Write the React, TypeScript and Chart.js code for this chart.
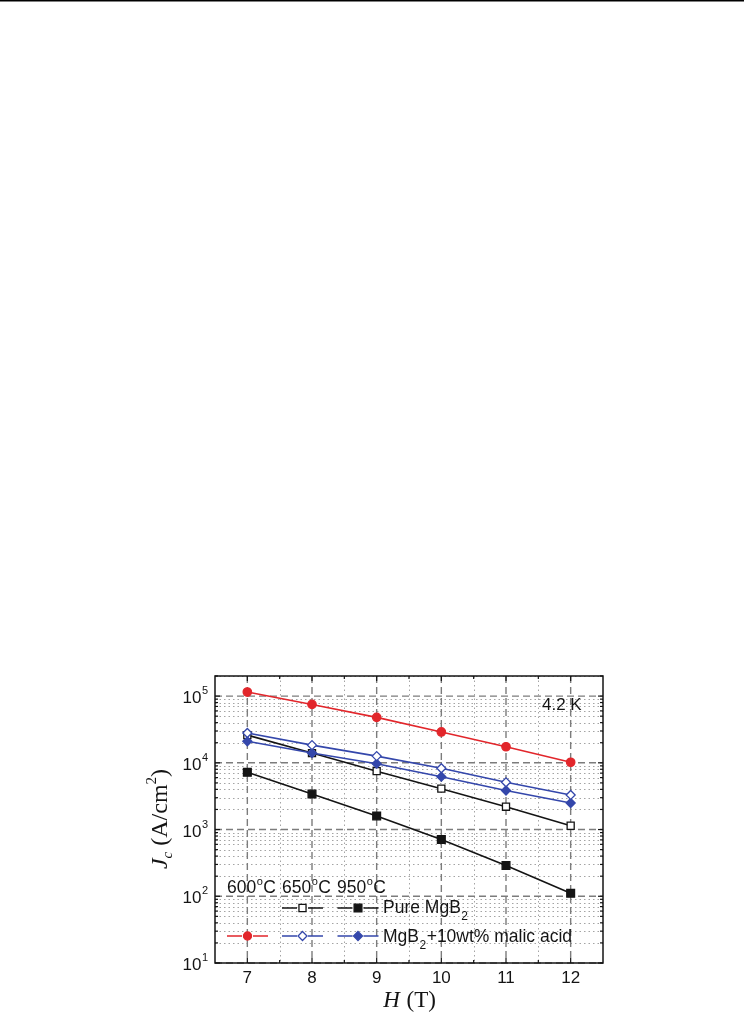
import React, { useEffect, useRef } from 'react';
import { Chart, registerables } from 'chart.js';

Chart.register(...registerables);

// ---- data ----
const fieldsT = [7, 8, 9, 10, 11, 12];
const pure650 = [2.6e4, 1.4e4, 7.5e3, 4.1e3, 2.2e3, 1.14e3];
const pure950 = [7.2e3, 3.4e3, 1.6e3, 710, 290, 111];
const malic600 = [1.15e5, 7.5e4, 4.8e4, 2.9e4, 1.74e4, 1.02e4];
const malic650 = [2.8e4, 1.84e4, 1.26e4, 8.3e3, 5.1e3, 3.3e3];
const malic950 = [2.1e4, 1.4e4, 9.7e3, 6.2e3, 3.85e3, 2.5e3];

const xMajorTicks = [7, 8, 9, 10, 11, 12];
const xMinorTicks = [7.5, 8.5, 9.5, 10.5, 11.5];
const yExponents = [1, 2, 3, 4, 5];
const yMinorMultipliers = [2, 3, 4, 5, 6, 7, 8, 9];
const tempLabels = ['600', '650', '950'];
const legendPure = 'Pure MgB';
const legendMalicA = 'MgB';
const legendMalicB = '+10wt% malic acid';
const tempNote = '4.2 K';

const RED = '#e2262b';
const BLUE = '#3447ab';
const BLACK = '#141414';
const SANS = '"Liberation Sans", Arial, sans-serif';
const SERIF = '"Liberation Serif", "Times New Roman", serif';

const pts = (arr: number[]) => fieldsT.map((x, i) => ({ x, y: arr[i] }));

type Kind = 'circle' | 'rect' | 'diamond';
const drawMarker = (ctx: CanvasRenderingContext2D, kind: Kind, x: number, y: number, r: number, color: string, filled: boolean) => {
  ctx.save();
  ctx.setLineDash([]);
  ctx.lineWidth = 1.3;
  ctx.strokeStyle = color;
  ctx.fillStyle = filled ? color : '#fff';
  ctx.beginPath();
  if (kind === 'circle') ctx.arc(x, y, r, 0, Math.PI * 2);
  else if (kind === 'rect') {
    const s = r * Math.SQRT1_2;
    ctx.rect(x - s, y - s, 2 * s, 2 * s);
  } else {
    ctx.moveTo(x, y - r);
    ctx.lineTo(x + r, y);
    ctx.lineTo(x, y + r);
    ctx.lineTo(x - r, y);
    ctx.closePath();
  }
  ctx.fill();
  ctx.stroke();
  ctx.restore();
};

const decorPlugin = {
  id: 'decor',
  beforeDatasetsDraw(chart: any) {
    const { ctx, chartArea: a, scales } = chart;
    const x = scales.x;
    const y = scales.y;
    ctx.save();
    // minor dotted grid
    ctx.strokeStyle = '#a4a4a4';
    ctx.lineWidth = 1;
    ctx.setLineDash([1.5, 3]);
    yExponents.forEach((e) => {
      yMinorMultipliers.forEach((m) => {
        const v = m * Math.pow(10, e);
        if (v > y.max) return;
        const py = Math.round(y.getPixelForValue(v)) + 0.5;
        ctx.beginPath();
        ctx.moveTo(a.left, py);
        ctx.lineTo(a.right, py);
        ctx.stroke();
      });
    });
    xMinorTicks.forEach((v) => {
      const px = Math.round(x.getPixelForValue(v)) + 0.5;
      ctx.beginPath();
      ctx.moveTo(px, a.top);
      ctx.lineTo(px, a.bottom);
      ctx.stroke();
    });
    // major dashed grid
    ctx.strokeStyle = '#7c7c7c';
    ctx.lineWidth = 1.4;
    ctx.setLineDash([7, 4]);
    yExponents.forEach((e) => {
      const py = y.getPixelForValue(Math.pow(10, e));
      ctx.beginPath();
      ctx.moveTo(a.left, py);
      ctx.lineTo(a.right, py);
      ctx.stroke();
    });
    xMajorTicks.forEach((v) => {
      const px = x.getPixelForValue(v);
      ctx.beginPath();
      ctx.moveTo(px, a.top);
      ctx.lineTo(px, a.bottom);
      ctx.stroke();
    });
    // border + ticks
    ctx.setLineDash([]);
    ctx.strokeStyle = BLACK;
    ctx.lineWidth = 1.5;
    ctx.strokeRect(a.left, a.top, a.right - a.left, a.bottom - a.top);
    ctx.lineWidth = 1.2;
    const tick = (x1: number, y1: number, x2: number, y2: number) => {
      ctx.beginPath();
      ctx.moveTo(x1, y1);
      ctx.lineTo(x2, y2);
      ctx.stroke();
    };
    xMajorTicks.forEach((v) => {
      const px = x.getPixelForValue(v);
      tick(px, a.bottom, px, a.bottom - 5);
      tick(px, a.top, px, a.top + 5);
    });
    xMinorTicks.forEach((v) => {
      const px = x.getPixelForValue(v);
      tick(px, a.bottom, px, a.bottom - 3);
      tick(px, a.top, px, a.top + 3);
    });
    yExponents.forEach((e) => {
      const py = y.getPixelForValue(Math.pow(10, e));
      tick(a.left, py, a.left + 5, py);
      tick(a.right, py, a.right - 5, py);
      yMinorMultipliers.forEach((m) => {
        const v = m * Math.pow(10, e);
        if (v > y.max) return;
        const pm = y.getPixelForValue(v);
        tick(a.left, pm, a.left + 3, pm);
        tick(a.right, pm, a.right - 3, pm);
      });
    });
    ctx.restore();
  },
  afterDraw(chart: any) {
    const { ctx, chartArea: a, scales } = chart;
    const x = scales.x;
    const y = scales.y;
    ctx.save();
    // page rule at very top
    ctx.fillStyle = '#000';
    ctx.fillRect(0, 0, chart.width, 1.5);

    ctx.fillStyle = BLACK;
    // x tick labels
    ctx.font = `17px ${SANS}`;
    ctx.textAlign = 'center';
    ctx.textBaseline = 'middle';
    xMajorTicks.forEach((v) => {
      ctx.fillText(String(v), x.getPixelForValue(v), a.bottom + 15);
    });
    // y tick labels 10^n
    const rightEdge = a.left - 7;
    yExponents.forEach((e) => {
      const py = y.getPixelForValue(Math.pow(10, e));
      ctx.font = `11px ${SANS}`;
      ctx.textAlign = 'right';
      ctx.textBaseline = 'alphabetic';
      const sw = ctx.measureText(String(e)).width;
      ctx.fillText(String(e), rightEdge, py - 2);
      ctx.font = `17px ${SANS}`;
      ctx.textBaseline = 'middle';
      ctx.fillText('10', rightEdge - sw - 0.5, py + 2.5);
    });

    // x title
    ctx.textBaseline = 'alphabetic';
    ctx.textAlign = 'left';
    const xtA = 'H';
    const xtB = ' (T)';
    ctx.font = `italic 23px ${SERIF}`;
    const wA = ctx.measureText(xtA).width;
    ctx.font = `23px ${SERIF}`;
    const wB = ctx.measureText(xtB).width;
    const xcx = (a.left + a.right) / 2;
    const sx = xcx - (wA + wB) / 2;
    ctx.font = `italic 23px ${SERIF}`;
    ctx.fillText(xtA, sx, 1007);
    ctx.font = `23px ${SERIF}`;
    ctx.fillText(xtB, sx + wA + 1, 1007);

    // y title (rotated)
    ctx.save();
    ctx.translate(167, 819);
    ctx.rotate(-Math.PI / 2);
    const parts: [string, string, number][] = [
      ['J', `italic 24px ${SERIF}`, 0],
      ['c', `italic 15px ${SERIF}`, 5],
      [' (A/cm', `24px ${SERIF}`, 0],
      ['2', `15px ${SERIF}`, -11],
      [')', `24px ${SERIF}`, 0],
    ];
    let total = 0;
    const widths = parts.map(([t, f]) => {
      ctx.font = f;
      const w = ctx.measureText(t).width;
      total += w;
      return w;
    });
    let cx = -total / 2;
    parts.forEach(([t, f, dy], i) => {
      ctx.font = f;
      ctx.fillText(t, cx, dy);
      cx += widths[i];
    });
    ctx.restore();

    // annotation 4.2 K
    ctx.font = `17px ${SANS}`;
    ctx.fillText(tempNote, 542, 710);

    // temperature header
    const tempX = [227, 282, 337];
    tempLabels.forEach((t, i) => {
      ctx.font = `17.5px ${SANS}`;
      ctx.fillText(t, tempX[i], 893);
      const w = ctx.measureText(t).width;
      ctx.font = `11px ${SANS}`;
      ctx.fillText('o', tempX[i] + w + 0.5, 885);
      const wo = ctx.measureText('o').width;
      ctx.font = `17.5px ${SANS}`;
      ctx.fillText('C', tempX[i] + w + wo + 1, 893);
    });

    // legend symbols
    const seg = (cx0: number, cy: number, color: string) => {
      ctx.save();
      ctx.strokeStyle = color;
      ctx.lineWidth = 1.6;
      ctx.beginPath();
      ctx.moveTo(cx0 - 20.5, cy);
      ctx.lineTo(cx0 - 5.5, cy);
      ctx.moveTo(cx0 + 5.5, cy);
      ctx.lineTo(cx0 + 20.5, cy);
      ctx.stroke();
      ctx.restore();
    };
    const row1 = 908;
    const row2 = 936;
    seg(302.5, row1, BLACK);
    drawMarker(ctx, 'rect', 302.5, row1, 5, BLACK, false);
    seg(358, row1, BLACK);
    drawMarker(ctx, 'rect', 358, row1, 5.5, BLACK, true);
    seg(247.5, row2, RED);
    drawMarker(ctx, 'circle', 247.5, row2, 4, RED, true);
    seg(302.5, row2, BLUE);
    drawMarker(ctx, 'diamond', 302.5, row2, 4.5, BLUE, false);
    seg(358, row2, BLUE);
    drawMarker(ctx, 'diamond', 358, row2, 4.5, BLUE, true);

    // legend text
    ctx.fillStyle = BLACK;
    ctx.font = `17.5px ${SANS}`;
    ctx.fillText(legendPure, 383, 913);
    const w1 = ctx.measureText(legendPure).width;
    ctx.font = `12px ${SANS}`;
    ctx.fillText('2', 383 + w1 + 0.5, 920);
    ctx.font = `17.5px ${SANS}`;
    ctx.fillText(legendMalicA, 383, 942);
    const w2 = ctx.measureText(legendMalicA).width;
    ctx.font = `12px ${SANS}`;
    ctx.fillText('2', 383 + w2 + 0.5, 949);
    const w3 = ctx.measureText('2').width;
    ctx.font = `17.5px ${SANS}`;
    ctx.fillText(legendMalicB, 383 + w2 + w3 + 1, 942);
    ctx.restore();
  },
};

export default function App() {
  const ref = useRef<HTMLCanvasElement | null>(null);
  useEffect(() => {
    if (!ref.current) return;
    document.body.style.overflow = 'hidden';
    const common = { borderWidth: 1.6, pointBorderWidth: 1.3, tension: 0, fill: false };
    const chart = new Chart(ref.current, {
      type: 'line',
      data: {
        datasets: [
          { ...common, label: '600 MgB2+malic', data: pts(malic600), borderColor: RED, pointStyle: 'circle', pointRadius: 4.2, pointBackgroundColor: RED, pointBorderColor: RED },
          { ...common, label: '650 MgB2+malic', data: pts(malic650), borderColor: BLUE, pointStyle: 'rectRot', pointRadius: 4.5, pointBackgroundColor: '#fff', pointBorderColor: BLUE },
          { ...common, label: '950 MgB2+malic', data: pts(malic950), borderColor: BLUE, pointStyle: 'rectRot', pointRadius: 4.5, pointBackgroundColor: BLUE, pointBorderColor: BLUE },
          { ...common, label: '650 Pure', data: pts(pure650), borderColor: BLACK, pointStyle: 'rect', pointRadius: 5, pointBackgroundColor: '#fff', pointBorderColor: BLACK },
          { ...common, label: '950 Pure', data: pts(pure950), borderColor: BLACK, pointStyle: 'rect', pointRadius: 5.5, pointBackgroundColor: BLACK, pointBorderColor: BLACK },
        ] as any,
      },
      options: {
        animation: false,
        responsive: false,
        devicePixelRatio: 1,
        layout: { padding: { left: 0, top: 676, right: 141, bottom: 0 } },
        plugins: { legend: { display: false }, tooltip: { enabled: false }, title: { display: false } },
        scales: {
          x: {
            type: 'linear',
            min: 6.5,
            max: 12.5,
            ticks: { display: false },
            grid: { display: false },
            border: { display: false },
            afterFit: (s: any) => { s.height = 51; },
          },
          y: {
            type: 'logarithmic',
            min: 10,
            max: 2e5,
            ticks: { display: false },
            grid: { display: false },
            border: { display: false },
            afterFit: (s: any) => { s.width = 215; },
          },
        },
      } as any,
      plugins: [decorPlugin],
    });
    return () => chart.destroy();
  }, []);
  return (
    <div style={{ position: 'absolute', left: 0, top: 0, width: 744, height: 1014 }}>
      <canvas ref={ref} width={744} height={1014} style={{ width: 744, height: 1014, display: 'block' }} />
    </div>
  );
}
